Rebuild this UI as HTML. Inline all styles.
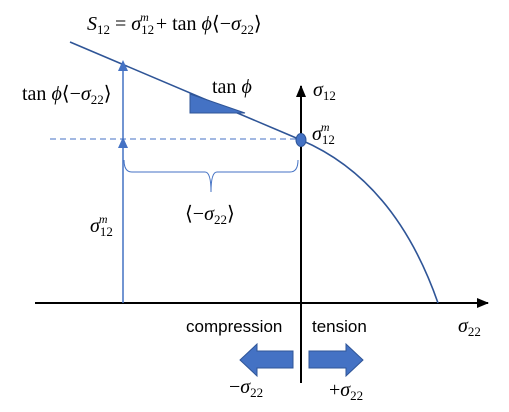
<!DOCTYPE html>
<html><head><meta charset="utf-8"><style>
body{margin:0;background:#fff}
svg{display:block}
.m{font-family:"Liberation Serif",serif;font-size:20px;fill:#000}
.s{font-family:"Liberation Sans",sans-serif;font-size:17px;fill:#000}
</style></head><body>
<svg id="c" width="509" height="412" viewBox="0 0 509 412">
<defs>
<marker id="ab" markerWidth="12" markerHeight="10" refX="11" refY="5" orient="auto" markerUnits="userSpaceOnUse" viewBox="0 0 12 10"><path d="M0,0L12,5L0,10z" fill="#000"/></marker>
</defs>
<g><text class="m" x="87" y="30"><tspan font-style="italic">S</tspan><tspan font-size="13" dy="4">12</tspan><tspan dy="-4"> = </tspan><tspan font-style="italic">σ</tspan><tspan font-size="13" dy="4">12</tspan><tspan font-size="12" font-style="italic" dx="-14" dy="-13">m</tspan><tspan dy="9" dx="2"> + tan </tspan><tspan font-style="italic">ϕ</tspan><tspan>⟨−</tspan><tspan font-style="italic">σ</tspan><tspan font-size="13" dy="4">22</tspan><tspan dy="-4">⟩</tspan></text></g>
<line x1="35" y1="303" x2="488" y2="303" stroke="#000" stroke-width="2" marker-end="url(#ab)"/>
<line x1="301" y1="383" x2="301" y2="86" stroke="#000" stroke-width="2" marker-end="url(#ab)"/>
<line x1="50" y1="139" x2="301" y2="139" stroke="#4472c4" stroke-width="1" stroke-dasharray="6,4"/>
<path d="M70,42 L301,140 Q395,180 438,303" fill="none" stroke="#2f5597" stroke-width="1.6"/>
<ellipse cx="301" cy="140" rx="5" ry="6.5" fill="#4472c4" stroke="#2f5597"/>
<polygon points="190,94 190,113 245,113" fill="#4472c4" stroke="#2f5597"/>
<line x1="123" y1="303" x2="123" y2="64" stroke="#4472c4" stroke-width="1.5"/>
<polygon points="123,60 118,71 128,71" fill="#4472c4"/>
<polygon points="123,137 118,148 128,148" fill="#4472c4"/>
<path d="M124,160 Q124,172 132,172 L205,172 Q211,172 211,192 Q211,172 217,172 L290,172 Q298,172 298,160" fill="none" stroke="#4472c4" stroke-width="1"/>
<text class="m" x="212" y="93">tan <tspan font-style="italic">ϕ</tspan></text>
<text class="m" x="22" y="100">tan <tspan font-style="italic">ϕ</tspan>⟨−<tspan font-style="italic">σ</tspan><tspan font-size="13" dy="4">22</tspan><tspan dy="-4">⟩</tspan></text>
<text class="m" x="185" y="220">⟨−<tspan font-style="italic">σ</tspan><tspan font-size="13" dy="4">22</tspan><tspan dy="-4">⟩</tspan></text>
<text class="m" x="90" y="232"><tspan font-style="italic">σ</tspan><tspan font-size="13" dy="4">12</tspan><tspan font-size="12" font-style="italic" dx="-14" dy="-13">m</tspan></text>
<text class="m" x="312" y="140"><tspan font-style="italic">σ</tspan><tspan font-size="13" dy="4">12</tspan><tspan font-size="12" font-style="italic" dx="-14" dy="-13">m</tspan></text>
<text class="m" x="313" y="96"><tspan font-style="italic">σ</tspan><tspan font-size="13" dy="4">12</tspan></text>
<text class="m" x="458" y="332"><tspan font-style="italic">σ</tspan><tspan font-size="13" dy="4">22</tspan></text>
<text class="s" x="186" y="332">compression</text>
<text class="s" x="312" y="332">tension</text>
<polygon points="293,351 257,351 257,344 240,360 257,376 257,368 293,368" fill="#4472c4" stroke="#2f5597"/>
<polygon points="309,351 346,351 346,344 363,360 346,376 346,368 309,368" fill="#4472c4" stroke="#2f5597"/>
<text class="m" x="229" y="393">−<tspan font-style="italic">σ</tspan><tspan font-size="13" dy="4">22</tspan></text>
<text class="m" x="329" y="396">+<tspan font-style="italic">σ</tspan><tspan font-size="13" dy="4">22</tspan></text>
</svg>
</body></html>
